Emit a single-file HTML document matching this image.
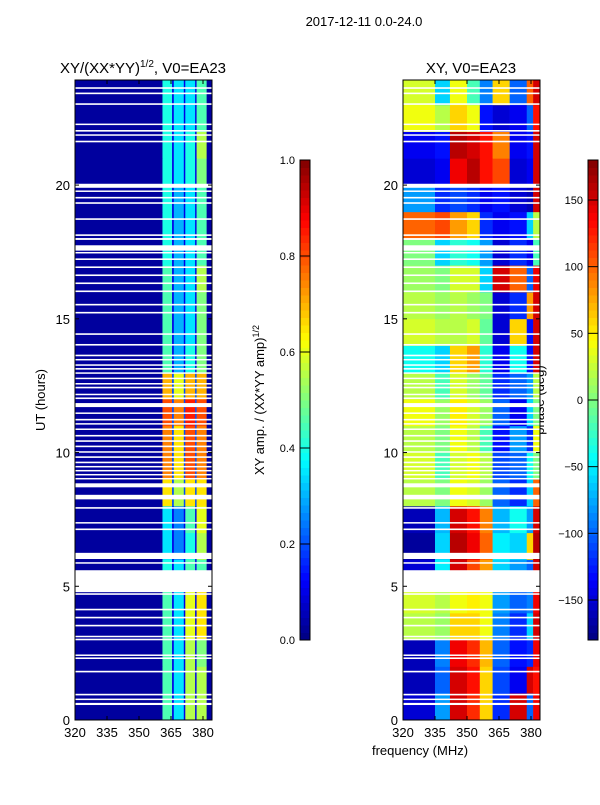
<!DOCTYPE html>
<html><head><meta charset="utf-8"><style>
body{margin:0;background:#fff;width:600px;height:800px;overflow:hidden}
svg text{font-family:"Liberation Sans",sans-serif;fill:#000}
</style></head><body>
<svg id="c" width="600" height="800" xmlns="http://www.w3.org/2000/svg">
<text x="364" y="26" font-size="13" text-anchor="middle">2017-12-11 0.0-24.0</text>
<text x="143" y="73" font-size="15" text-anchor="middle">XY/(XX*YY)<tspan font-size="10" dy="-6">1/2</tspan><tspan dy="6">, V0=EA23</tspan></text>
<text x="471" y="73" font-size="15" text-anchor="middle">XY, V0=EA23</text>
<text x="45" y="400" font-size="13" text-anchor="middle" transform="rotate(-90 45 400)">UT (hours)</text>
<text x="420" y="755" font-size="13" text-anchor="middle">frequency (MHz)</text>
<text x="264" y="400" font-size="13" text-anchor="middle" transform="rotate(-90 264 400)">XY amp. / (XX*YY amp)<tspan font-size="9" dy="-5">1/2</tspan></text>
<text x="544" y="400" font-size="13" text-anchor="middle" transform="rotate(-90 544 400)">phase (deg)</text>
<g id="L"></g>
<g id="R"></g>
<g id="ax"></g>
</svg>
<script>
const flags=[[0.56,0.64],[0.75,0.8],[0.92,0.98],[1.78,1.84],[2.28,2.34],[2.4,2.45],[2.98,3.04],[3.1,3.15],[3.5,3.56],[3.8,3.86],[4.1,4.16],[4.68,4.74],[4.78,5.6],[5.85,5.9],[6.02,6.25],[7.1,7.16],[7.35,7.4],[7.9,7.96],[8.25,8.42],[8.7,8.85],[9.0,9.05],[9.15,9.2],[9.3,9.35],[9.45,9.5],[9.6,9.66],[9.8,9.86],[10.0,10.05],[10.2,10.26],[10.4,10.46],[10.6,10.66],[10.85,10.9],[11.05,11.1],[11.2,11.26],[11.45,11.5],[11.7,11.85],[12.0,12.06],[12.15,12.2],[12.4,12.46],[12.55,12.6],[12.75,12.8],[12.95,13.0],[13.1,13.16],[13.25,13.3],[13.45,13.5],[13.6,13.66],[14.0,14.06],[14.4,14.46],[15.2,15.26],[15.5,15.56],[16.0,16.06],[16.3,16.36],[16.6,16.66],[16.9,16.96],[17.2,17.26],[17.45,17.5],[17.55,17.75],[17.95,18.02],[18.1,18.16],[18.7,18.76],[19.3,19.36],[19.5,19.56],[19.75,19.8],[19.9,20.05],[21.6,21.66],[21.85,21.9],[22.0,22.06],[22.25,22.3],[23.0,23.06],[23.4,23.46],[23.6,23.66]];
const ampEdges=[320,361,365.5,366.3,371,371.7,376.3,377,381.7,384.2];
const ampRows=[
[0.03,0.45,0.1,0.35,0.1,0.55,0.1,0.55,0.03],[0.03,0.45,0.1,0.35,0.1,0.55,0.1,0.55,0.03],[0.03,0.45,0.1,0.35,0.1,0.55,0.1,0.5,0.03],
[0.03,0.45,0.1,0.35,0.1,0.6,0.1,0.65,0.03],[0.03,0.45,0.1,0.35,0.1,0.6,0.1,0.65,0.03],[0.03,0.4,0.1,0.35,0.1,0.45,0.1,0.45,0.03],
[0.03,0.35,0.1,0.25,0.1,0.4,0.1,0.55,0.03],[0.03,0.35,0.1,0.25,0.1,0.45,0.1,0.6,0.03],[0.03,0.65,0.2,0.55,0.2,0.65,0.2,0.65,0.03],
[0.03,0.75,0.2,0.65,0.2,0.8,0.2,0.75,0.03],[0.03,0.75,0.2,0.65,0.2,0.8,0.2,0.75,0.03],[0.03,0.8,0.2,0.75,0.2,0.85,0.2,0.8,0.03],
[0.03,0.7,0.2,0.6,0.2,0.7,0.2,0.7,0.03],[0.03,0.45,0.1,0.3,0.1,0.4,0.1,0.5,0.03],[0.03,0.45,0.1,0.3,0.1,0.35,0.1,0.5,0.03],
[0.03,0.45,0.1,0.3,0.1,0.35,0.1,0.5,0.03],[0.03,0.45,0.1,0.3,0.1,0.35,0.1,0.55,0.03],[0.03,0.4,0.1,0.3,0.1,0.35,0.1,0.45,0.03],
[0.03,0.4,0.1,0.3,0.1,0.35,0.1,0.45,0.03],[0.03,0.4,0.1,0.3,0.1,0.35,0.1,0.45,0.03],[0.03,0.4,0.1,0.35,0.1,0.4,0.1,0.5,0.03],
[0.03,0.4,0.1,0.35,0.1,0.4,0.1,0.55,0.03],[0.03,0.4,0.1,0.35,0.1,0.35,0.1,0.45,0.03],[0.03,0.4,0.1,0.35,0.1,0.35,0.1,0.45,0.03]];
const phEdges=[320,335,342,350,356,362,370,378,381,384.2];
const phRows=[
[-150,-80,150,120,60,-120,150,-100,140],[-160,-100,150,130,60,-110,-140,150,130],[-160,-90,140,120,70,-100,-130,-120,140],
[20,10,60,60,40,-90,-120,-60,150],[30,20,40,50,40,-80,-100,-90,140],[-150,-50,150,110,80,-60,-80,-100,150],
[-170,-60,160,140,100,-50,-60,60,160],[-160,-70,150,130,90,-70,-40,-80,150],[20,0,40,30,10,-100,-120,-60,100],
[30,-20,30,40,20,-110,-100,-40,0],[20,0,40,20,-20,-130,-80,-120,40],[40,10,50,30,10,-100,-140,-60,0],
[20,-20,30,10,-10,-120,-100,-80,20],[-40,-60,60,80,-30,-140,-40,-130,150],[30,20,20,30,-10,-150,60,-130,150],
[20,10,20,10,0,-150,-120,80,150],[10,0,30,30,-60,150,100,-100,140],[0,-60,-30,-40,-80,-150,-120,-140,-20],
[100,110,80,60,-120,-140,-130,-60,20],[-80,-120,-110,-120,-140,-130,-150,-160,150],[-150,-140,140,160,130,110,-150,-140,150],
[-140,-130,160,150,130,90,-140,-130,150],[40,20,60,40,-130,-150,-140,-100,130],[30,-60,40,-20,-90,60,-100,100,150]];
const xTicks=[320,335,350,365,380];
const yTicks=[0,5,10,15,20];
const ampTicks=[0,0.2,0.4,0.6,0.8,1.0];
const phTicks=[-150,-100,-50,0,50,100,150];

const NS="http://www.w3.org/2000/svg";
const Y0=720,Y1=80,TMAX=23.93;
function yS(h){return Y0-(Y0-Y1)*h/TMAX;}
function xS(f,x0){return x0+(f-320)*128/60;}
function jet(v){v=Math.max(0,Math.min(1,v));
 const c=t=>Math.round(255*Math.max(0,Math.min(1,1.5-Math.abs(4*v-t))));
 return `rgb(${c(3)},${c(2)},${c(1)})`;}
function mk(tag,at,parent){const e=document.createElementNS(NS,tag);for(const k in at)e.setAttribute(k,at[k]);parent.appendChild(e);return e;}
function heat(gid,x0,edges,rows,norm){
 const g=document.getElementById(gid);
 rows.forEach((row,h)=>{row.forEach((v,i)=>{
  const xa=xS(edges[i],x0),xb=xS(edges[i+1],x0);
  const ya=yS(Math.min(h+1,TMAX)),yb=yS(h);
  const r=mk('rect',{x:xa,y:ya,width:xb-xa+0.3,height:yb-ya+0.3,fill:jet(norm(v))},g);
  
  
 });});
 flags.forEach(f=>{
  const r=mk('rect',{x:x0,y:yS(f[1]),width:137,height:Math.max(1.5,yS(f[0])-yS(f[1])),fill:'#fff'},g);
  
  
 });
}
heat('L',75,ampEdges,ampRows,v=>v);
heat('R',403,phEdges,phRows,v=>(v+180)/360);
const ax=document.getElementById('ax');
[75,403].forEach(x0=>{
 mk('rect',{x:x0,y:Y1,width:137,height:Y0-Y1,fill:'none',stroke:'#000','stroke-width':1},ax);
 xTicks.forEach(t=>{const x=xS(t,x0);
  mk('line',{x1:x,x2:x,y1:Y0,y2:Y0-4,stroke:'#000'},ax);mk('line',{x1:x,x2:x,y1:Y1,y2:Y1+4,stroke:'#000'},ax);
  const tx=mk('text',{x:x,y:Y0+17,'font-size':13,'text-anchor':'middle'},ax);tx.textContent=t;
  
  });
 yTicks.forEach(t=>{const y=yS(t);
  mk('line',{x1:x0,x2:x0+4,y1:y,y2:y,stroke:'#000'},ax);mk('line',{x1:x0+133,x2:x0+137,y1:y,y2:y,stroke:'#000'},ax);
  const tx=mk('text',{x:x0-5,y:y+5,'font-size':13,'text-anchor':'end'},ax);tx.textContent=t;
  
  });
});
function cbar(x0,ticks,lo,hi,id,fmt){
 const N=64;for(let i=0;i<N;i++){
  const r=mk('rect',{x:x0,y:640-(i+1)*480/N,width:10,height:480/N+0.5,fill:jet((i+0.5)/N)},ax);
  
  }
 mk('rect',{x:x0,y:160,width:10,height:480,fill:'none',stroke:'#000'},ax);
 ticks.forEach(t=>{const y=640-480*(t-lo)/(hi-lo);
  mk('line',{x1:x0,x2:x0+10,y1:y,y2:y,stroke:'#000'},ax);
  const tx=mk('text',{x:x0-5,y:y+4,'font-size':11,'text-anchor':'end'},ax);tx.textContent=fmt(t);
  
  });
}
cbar(300,ampTicks,0,1,'amp-colorbar',t=>t.toFixed(1));
cbar(588,phTicks,-180,180,'phase-colorbar',t=>t<0?'\u2212'+(-t):String(t));
</script>
</body></html>
